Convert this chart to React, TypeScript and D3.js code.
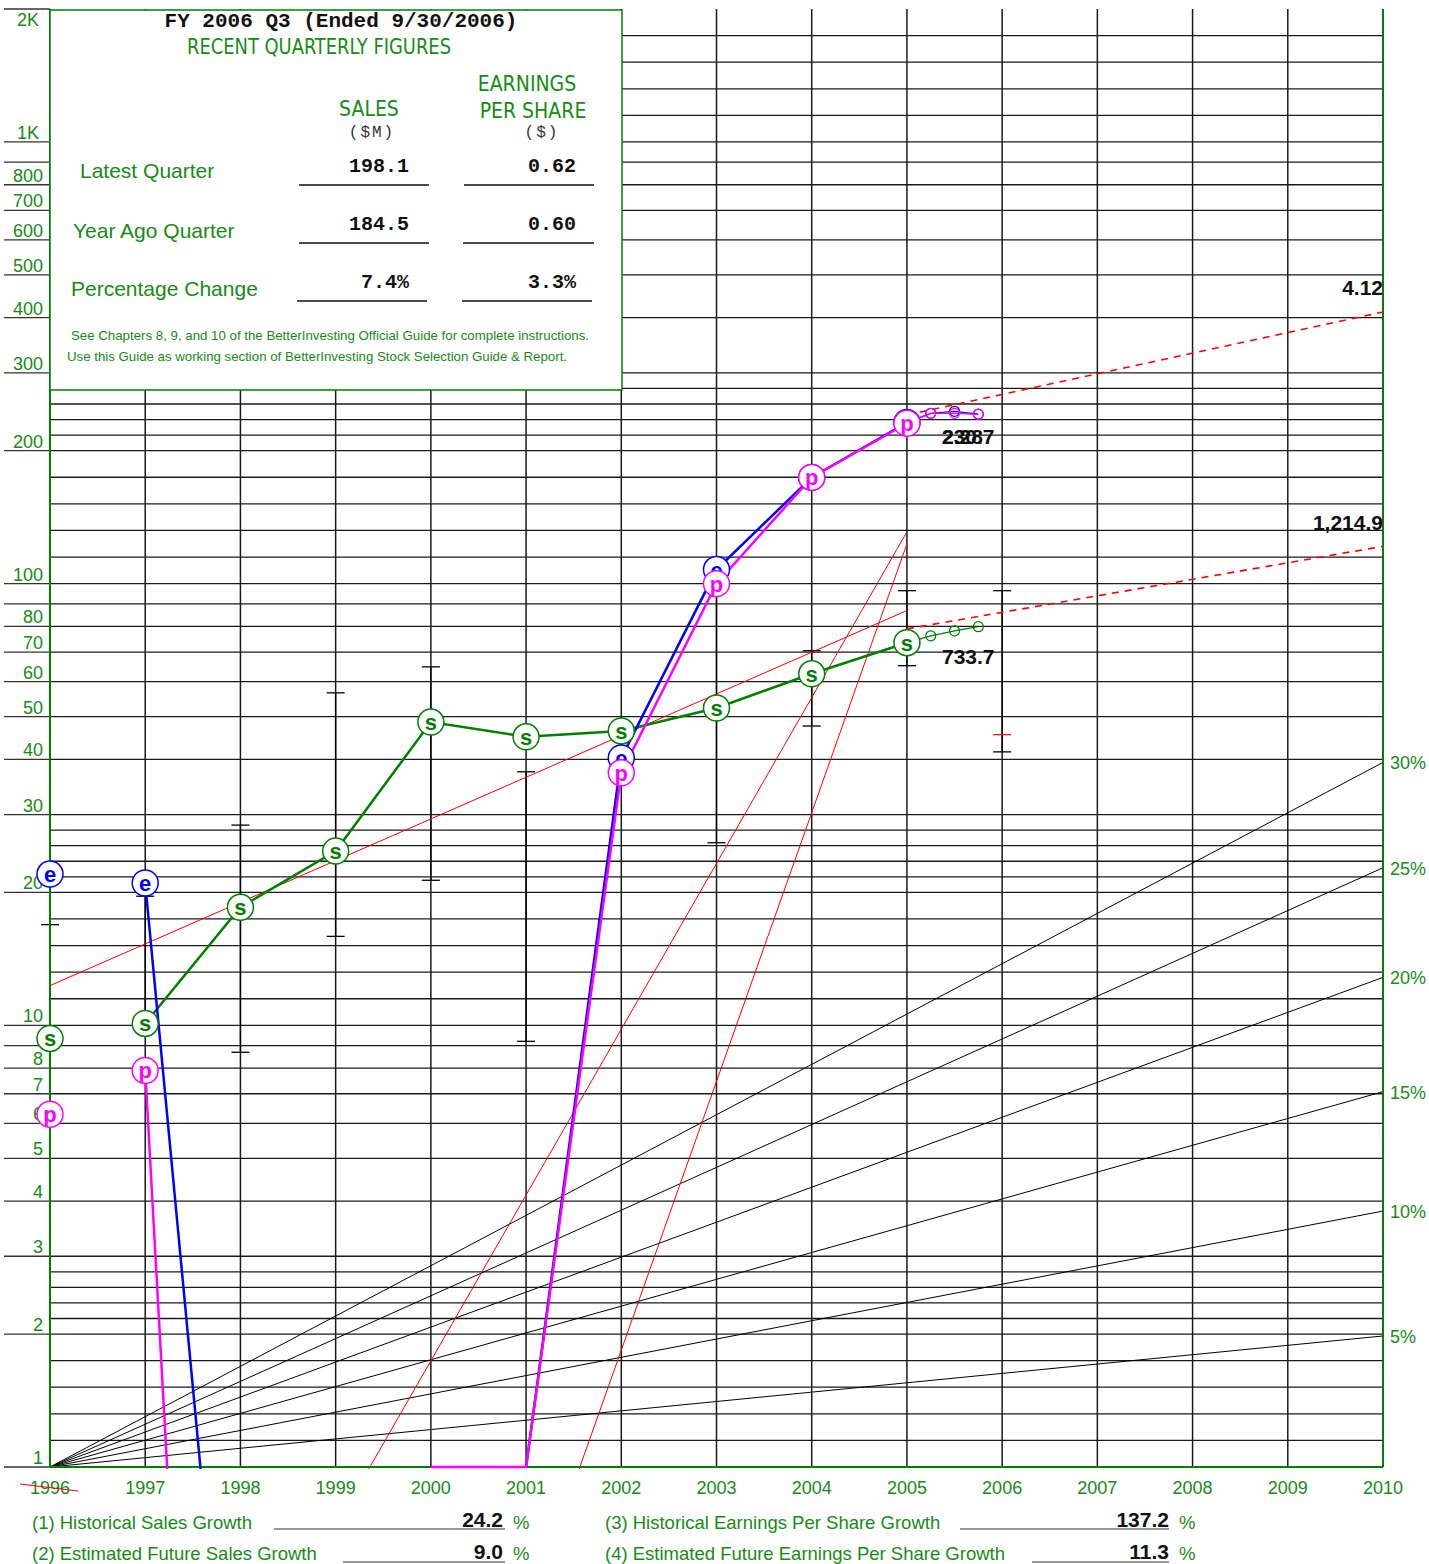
import React from 'react';
import * as d3 from 'd3';

// fiscal years plotted
const years = [1996, 1997, 1998, 1999, 2000, 2001, 2002, 2003, 2004, 2005];
const axisYears = d3.range(1996, 2011);

// sales ($M), plotted at 1/10 scale
const salesM = [93.4, 101, 185, 248, 486, 450, 464, 523, 625, 735];
// eps ($), plotted x100
const epsUsd: (number | null)[] = [0.22, 0.21, 0.0011, null, null, 0.01, 0.403, 1.076, 1.74, 2.317];
// pretax profit ($M)
const pretaxM: (number | null)[] = [6.29, 7.9, 0.001, null, 1, 1, 37.3, 100, 174, 230.7];

// trailing quarters after FY2005
const qYears = [2005.25, 2005.5, 2005.75];
const salesQ = [762, 782, 799];
const epsQ = [2.43, 2.456, 2.42];
const pretaxQ = [243, 243, 241.7];

// price high / low bars
const priceYears = [1996, 1997, 1998, 1999, 2000, 2001, 2002, 2003, 2004, 2005, 2006];
const priceHigh = [16.9, 19.6, 28.4, 56.6, 64.8, 37.5, 46, 106, 70.5, 96.4, 96.4];
const priceLow = [9.5, 10.2, 8.69, 15.9, 21.3, 9.2, 40, 25.9, 47.6, 65.2, 41.6];
const currentPrice = 45.5;

// trend and projection lines [year, plotted value]
const salesTrend: [number, number][] = [[1996, 12.3], [2005, 86.9]];
const epsTrend: [number, number][] = [[1999, 0.733], [2005, 131]];
const pretaxTrend: [number, number][] = [[2001, 0.453], [2005, 123]];
const salesProj: [number, number][] = [[2005, 79.0], [2010, 121.49]];
const epsProj: [number, number][] = [[2005, 241], [2010, 412]];

const growthRates = [5, 10, 15, 20, 25, 30];
const yLabelValues = [1, 2, 3, 4, 5, 6, 7, 8, 10, 20, 30, 40, 50, 60, 70, 80, 100, 200, 300, 400, 500, 600, 700, 800, 1000, 2000];

const GREEN = '#008000';
const TGREEN = '#168c16';
const BLUE = '#0000ff';
const MAG = '#ff00ff';
const SANS = "'Liberation Sans', Arial, sans-serif";
const NARROW = "'Liberation Sans Narrow', 'DejaVu Sans Condensed', 'Liberation Sans', sans-serif";
const MONO = "'Liberation Mono', 'Courier New', monospace";

const x = d3.scaleLinear().domain([1996, 2010]).range([50, 1383]);
const y = d3.scaleLog().domain([1, 2000]).range([1467, 9]);

const line = d3.line<[number, number | null]>()
  .defined(d => d[1] != null)
  .x(d => x(d[0]))
  .y(d => y(d[1] as number));

function Marker({ cx, cy, letter, color }: { cx: number; cy: number; letter: string; color: string }) {
  return (
    <g>
      <circle cx={cx} cy={cy} r={13} fill="#fff" stroke={color} strokeWidth={1.5} />
      <text x={cx} y={cy} dy="0.36em" textAnchor="middle" fill={color}
        style={{ font: `bold 22px ${SANS}` }}>{letter}</text>
    </g>
  );
}

export default function App() {
  // horizontal grid: each decade has 1..2 and 2..3 split into fifths, then 3..9
  const gridYs: number[] = [];
  [1, 10, 100, 1000].forEach(d => {
    const spans = d < 1000 ? [[1, 2], [2, 3]] : [[1, 2]];
    spans.forEach(([a, b]) => {
      for (let k = 0; k < 5; k++) gridYs.push(y(a * d) + (y(b * d) - y(a * d)) * k / 5);
    });
    if (d < 1000) for (let m = 3; m <= 9; m++) gridYs.push(y(m * d));
  });
  const majorTicks: number[] = [];
  [1, 10, 100].forEach(d => { for (let m = 1; m <= 9; m++) majorTicks.push(m * d); });
  majorTicks.push(1000, 2000);

  // 1996 is marked but not joined to the later years
  const salesPts = years.map((yr, i) => [yr, salesM[i] / 10] as [number, number]);
  const epsPts = years.map((yr, i) => [yr, epsUsd[i] == null ? null : (epsUsd[i] as number) * 100] as [number, number | null]);
  const ptPts = years.map((yr, i) => [yr, pretaxM[i]] as [number, number | null]);
  const salesQPts: [number, number][] = [[2005, salesM[9] / 10], ...qYears.map((q, i) => [q, salesQ[i] / 10] as [number, number])];
  const epsQPts: [number, number][] = [[2005, (epsUsd[9] as number) * 100], ...qYears.map((q, i) => [q, epsQ[i] * 100] as [number, number])];
  const ptQPts: [number, number][] = [[2005, pretaxM[9] as number], ...qYears.map((q, i) => [q, pretaxQ[i]] as [number, number])];

  const x0 = x(1996), x1 = x(2010), yB = y(1);

  return (
    <svg width={1429} height={1564} style={{ position: 'absolute', left: 0, top: 0, background: '#fff' }}>
      <defs>
        <clipPath id="plot"><rect x={x0} y={y(2000)} width={x1 - x0} height={yB - y(2000) + 2} /></clipPath>
      </defs>

      {/* grid */}
      {gridYs.map((gy, i) => (
        <line key={'h' + i} x1={x0} x2={x1} y1={gy} y2={gy} stroke="#1a1a1a" strokeWidth={1.3} />
      ))}
      {axisYears.map(yr => (
        <line key={'v' + yr} x1={x(yr)} x2={x(yr)} y1={y(2000)} y2={yB} stroke="#1a1a1a" strokeWidth={1.5} />
      ))}

      {/* left tick marks and labels */}
      {majorTicks.map(v => (
        <line key={'t' + v} x1={4} x2={x0} y1={y(v)} y2={y(v)} stroke="#333" strokeWidth={1.3} />
      ))}
      {yLabelValues.map(v => (
        <text key={'l' + v} x={v >= 1000 ? 39 : 43} y={v === 2000 ? y(v) + 17 : y(v) - 3} textAnchor="end" fill={TGREEN}
          style={{ font: `18px ${SANS}` }}>{v >= 1000 ? `${v / 1000}K` : v}</text>
      ))}

      {/* growth rate guide lines */}
      {growthRates.map(r => (
        <g key={'g' + r}>
          <line x1={x0} y1={yB} x2={x1} y2={y(Math.pow(1 + r / 100, 14))} stroke="#000" strokeWidth={1} />
          <text x={1390} y={y(Math.pow(1 + r / 100, 14)) + 7} fill={TGREEN} style={{ font: `18px ${SANS}` }}>{r}%</text>
        </g>
      ))}

      {/* price bars */}
      {priceYears.map((yr, i) => (
        <g key={'p' + yr} stroke="#000" strokeWidth={1.3}>
          <line x1={x(yr)} x2={x(yr)} y1={y(priceHigh[i])} y2={y(priceLow[i])} />
          <line x1={x(yr) - 9} x2={x(yr) + 9} y1={y(priceHigh[i])} y2={y(priceHigh[i])} />
          <line x1={x(yr) - 9} x2={x(yr) + 9} y1={y(priceLow[i])} y2={y(priceLow[i])} />
        </g>
      ))}
      <line x1={x(2006) - 9} x2={x(2006) + 9} y1={y(currentPrice)} y2={y(currentPrice)} stroke="#ff0000" strokeWidth={1.2} />

      <g clipPath="url(#plot)">
        {/* trend lines */}
        {[salesTrend, epsTrend, pretaxTrend].map((t, i) => (
          <path key={'tr' + i} d={line(t) || ''} fill="none" stroke="#ff0000" strokeWidth={1} />
        ))}
        {[salesProj, epsProj].map((t, i) => (
          <path key={'pj' + i} d={line(t) || ''} fill="none" stroke="#ff0000" strokeWidth={1.6} strokeDasharray="7,6" />
        ))}
      </g>

      {/* axis frame */}
      <line x1={x0} x2={x0} y1={y(2000)} y2={yB} stroke={GREEN} strokeWidth={2} />
      <line x1={x1} x2={x1} y1={y(2000)} y2={yB} stroke={GREEN} strokeWidth={1.5} />
      <line x1={x0} x2={x1} y1={yB} y2={yB} stroke={GREEN} strokeWidth={2} />

      <g clipPath="url(#plot)">
        {/* data lines (from 1997 on) */}
        <path d={line(salesPts.slice(1)) || ''} fill="none" stroke={GREEN} strokeWidth={2.5} />
        <path d={line(epsPts.slice(1)) || ''} fill="none" stroke={BLUE} strokeWidth={2.5} />
        <path d={line(ptPts.slice(1)) || ''} fill="none" stroke={MAG} strokeWidth={2.5} />
        <path d={line(salesQPts) || ''} fill="none" stroke={GREEN} strokeWidth={1.3} />
        <path d={line(epsQPts) || ''} fill="none" stroke={BLUE} strokeWidth={1.3} />
        <path d={line(ptQPts) || ''} fill="none" stroke={MAG} strokeWidth={1.3} />
      </g>

      {/* quarter markers */}
      {salesQPts.slice(1).map((d, i) => <circle key={'sq' + i} cx={x(d[0])} cy={y(d[1])} r={5} fill="none" stroke={GREEN} strokeWidth={1.2} />)}
      {epsQPts.slice(1).map((d, i) => <circle key={'eq' + i} cx={x(d[0])} cy={y(d[1])} r={5} fill="none" stroke={BLUE} strokeWidth={1.2} />)}
      {ptQPts.slice(1).map((d, i) => <circle key={'pq' + i} cx={x(d[0])} cy={y(d[1])} r={5} fill="none" stroke={MAG} strokeWidth={1.2} />)}

      {/* annual markers */}
      {salesPts.map(d => <Marker key={'s' + d[0]} cx={x(d[0])} cy={y(d[1])} letter="s" color={GREEN} />)}
      {epsPts.filter(d => d[1] != null && (d[1] as number) >= 1.5).map(d => <Marker key={'e' + d[0]} cx={x(d[0])} cy={y(d[1] as number)} letter="e" color={BLUE} />)}
      {ptPts.filter(d => d[1] != null && (d[1] as number) >= 1.5).map(d => <Marker key={'pp' + d[0]} cx={x(d[0])} cy={y(d[1] as number)} letter="p" color={MAG} />)}

      {/* value labels */}
      <g style={{ font: `bold 21px ${SANS}` }} fill="#111">
        <text x={x1} y={295} textAnchor="end">{(epsProj[1][1] / 100).toFixed(2)}</text>
        <text x={x1} y={530} textAnchor="end">{d3.format(',.1f')(salesProj[1][1] * 10)}</text>
        <text x={942} y={664}>733.7</text>
        <text x={942} y={444}>2.28</text>
        <text x={942} y={444}>230.7</text>
      </g>

      {/* info box */}
      <rect x={x0} y={10} width={572} height={380} fill="#fff" stroke={GREEN} strokeWidth={1.5} />
      <text x={341} y={27} textAnchor="middle" fill="#111" style={{ font: `bold 21px ${MONO}` }}>FY 2006 Q3 (Ended 9/30/2006)</text>
      <text x={319} y={54} textAnchor="middle" fill={TGREEN} textLength={264} lengthAdjust="spacingAndGlyphs" style={{ font: `21px ${NARROW}` }}>RECENT QUARTERLY FIGURES</text>
      <text x={527} y={91} textAnchor="middle" fill={TGREEN} style={{ font: `21px ${NARROW}` }}>EARNINGS</text>
      <text x={533} y={118} textAnchor="middle" fill={TGREEN} style={{ font: `21px ${NARROW}` }}>PER SHARE</text>
      <text x={369} y={116} textAnchor="middle" fill={TGREEN} style={{ font: `21px ${NARROW}` }}>SALES</text>
      <text x={372} y={137} textAnchor="middle" fill="#333" letterSpacing={2} style={{ font: `16px ${MONO}` }}>($M)</text>
      <text x={542} y={137} textAnchor="middle" fill="#333" letterSpacing={2} style={{ font: `16px ${MONO}` }}>($)</text>

      <g fill={TGREEN} style={{ font: `21px ${SANS}` }}>
        <text x={80} y={178}>Latest Quarter</text>
        <text x={73} y={238}>Year Ago Quarter</text>
        <text x={71} y={296}>Percentage Change</text>
      </g>
      <g fill="#111" style={{ font: `bold 20px ${MONO}` }}>
        <text x={409} y={172} textAnchor="end">198.1</text>
        <text x={576} y={172} textAnchor="end">0.62</text>
        <text x={409} y={230} textAnchor="end">184.5</text>
        <text x={576} y={230} textAnchor="end">0.60</text>
        <text x={409} y={288} textAnchor="end">7.4%</text>
        <text x={576} y={288} textAnchor="end">3.3%</text>
      </g>
      <g stroke="#111" strokeWidth={1.3}>
        <line x1={299} x2={429} y1={185} y2={185} />
        <line x1={464} x2={594} y1={185} y2={185} />
        <line x1={299} x2={429} y1={243} y2={243} />
        <line x1={463} x2={594} y1={243} y2={243} />
        <line x1={297} x2={427} y1={301} y2={301} />
        <line x1={462} x2={592} y1={301} y2={301} />
      </g>
      <text x={71} y={340} fill={TGREEN} textLength={518} lengthAdjust="spacingAndGlyphs" style={{ font: `13px ${SANS}` }}>See Chapters 8, 9, and 10 of the BetterInvesting Official Guide for complete instructions.</text>
      <text x={67} y={361} fill={TGREEN} textLength={500} lengthAdjust="spacingAndGlyphs" style={{ font: `13px ${SANS}` }}>Use this Guide as working section of BetterInvesting Stock Selection Guide &amp; Report.</text>

      {/* year labels */}
      {axisYears.map(yr => (
        <text key={'y' + yr} x={x(yr)} y={1494} textAnchor="middle" fill={TGREEN} style={{ font: `18px ${SANS}` }}>{yr}</text>
      ))}
      <line x1={20} y1={1484} x2={78} y2={1491} stroke="#ff0000" strokeWidth={1} />

      {/* growth summary */}
      <g fill={TGREEN} style={{ font: `18.5px ${SANS}` }}>
        <text x={32} y={1529}>(1) Historical Sales Growth</text>
        <text x={32} y={1560}>(2) Estimated Future Sales Growth</text>
        <text x={605} y={1529}>(3) Historical Earnings Per Share Growth</text>
        <text x={605} y={1560}>(4) Estimated Future Earnings Per Share Growth</text>
        <text x={513} y={1529}>%</text>
        <text x={513} y={1560}>%</text>
        <text x={1179} y={1529}>%</text>
        <text x={1179} y={1560}>%</text>
      </g>
      <g stroke="#777" strokeWidth={1.5}>
        <line x1={274} x2={505} y1={1529} y2={1529} />
        <line x1={343} x2={505} y1={1562} y2={1562} />
        <line x1={960} x2={1169} y1={1529} y2={1529} />
        <line x1={1032} x2={1169} y1={1562} y2={1562} />
      </g>
      <g fill="#111" style={{ font: `bold 21px ${SANS}` }} textAnchor="end">
        <text x={503} y={1527}>24.2</text>
        <text x={503} y={1559}>9.0</text>
        <text x={1169} y={1527}>137.2</text>
        <text x={1169} y={1559}>11.3</text>
      </g>
    </svg>
  );
}
